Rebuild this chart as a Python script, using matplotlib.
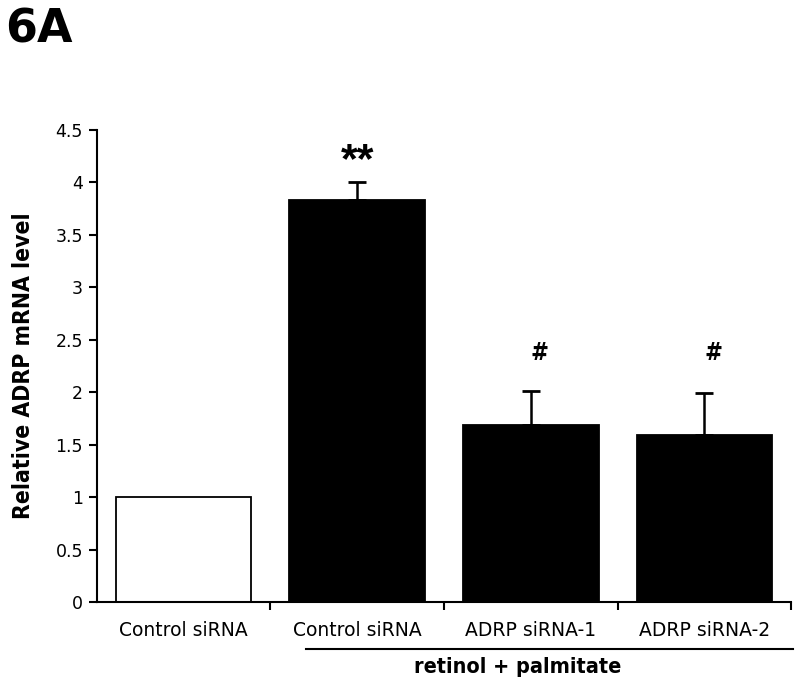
import matplotlib
matplotlib.use('Agg')
import matplotlib.pyplot as plt
import numpy as np

# values
categories = ['Control siRNA', 'Control siRNA', 'ADRP siRNA-1', 'ADRP siRNA-2']
values = [1.0, 3.83, 1.69, 1.59]
errors = [0.0, 0.17, 0.32, 0.40]
colors = ['white', 'black', 'black', 'black']
marks = ['', '**', '#', '#']
ytick_labels = ['0', '0.5', '1', '1.5', '2', '2.5', '3', '3.5', '4', '4.5']

plt.rcParams['font.family'] = ['DejaVu Sans']
narrow = ['Liberation Sans Narrow', 'DejaVu Sans Condensed', 'DejaVu Sans']

fig = plt.figure(figsize=(8, 6.88), dpi=100)
ax = fig.add_axes([0.121, 0.125, 0.868, 0.686])

x = np.arange(len(categories))
ax.bar(x, values, width=0.78, color=colors, edgecolor='black', linewidth=1.3, zorder=2)
# only upper error bars
ax.errorbar(x[1:], values[1:], yerr=[np.zeros(3), errors[1:]], fmt='none',
            ecolor='black', elinewidth=1.8, capsize=6.5, capthick=2, zorder=3)

# significance marks
for i in range(1, len(x)):
    if marks[i] == '**':
        ax.text(x[i], 4.2, marks[i], ha='center', va='center', fontsize=31,
                fontweight='bold', family='Liberation Sans')
    else:
        ax.text(x[i] + 0.05, 2.37, marks[i], ha='center', va='center', fontsize=17,
                fontweight='bold', family=narrow, fontstretch='condensed')

ax.set_xlim(-0.5, 3.5)
ax.set_ylim(0, 4.5)
ax.set_yticks(np.arange(0, 4.51, 0.5))
ax.set_yticklabels(ytick_labels)
ax.set_xticks(x + 0.5)
ax.set_xticklabels([])
ax.set_xticks(x, minor=True)
ax.set_xticklabels(categories, minor=True)
ax.tick_params(axis='x', which='minor', length=0, pad=14, labelsize=13.5)
ax.tick_params(axis='x', which='major', direction='out', length=6, width=1.5)
ax.tick_params(axis='y', direction='out', length=6, width=1.5, labelsize=12.5, pad=4)

for s in ['top', 'right']:
    ax.spines[s].set_visible(False)
for s in ['left', 'bottom']:
    ax.spines[s].set_linewidth(1.5)

ax.set_ylabel('Relative ADRP mRNA level', fontsize=16.5, fontweight='bold',
              family=narrow, fontstretch='condensed', labelpad=15)

# bracket line and group label under the treated bars
fig.add_artist(plt.Line2D([306 / 800, 793 / 800], [1 - 649 / 688, 1 - 649 / 688],
                          color='black', linewidth=1.5))
fig.text(518 / 800, 1 - 667 / 688, 'retinol + palmitate', ha='center', va='center',
         fontsize=15.5, fontweight='bold', family=narrow, fontstretch='condensed')

fig.text(5 / 800, 1 - 30 / 688, '6A', ha='left', va='center', fontsize=33,
         fontweight='heavy', family='DejaVu Sans')

fig.savefig('out.png', dpi=100)
